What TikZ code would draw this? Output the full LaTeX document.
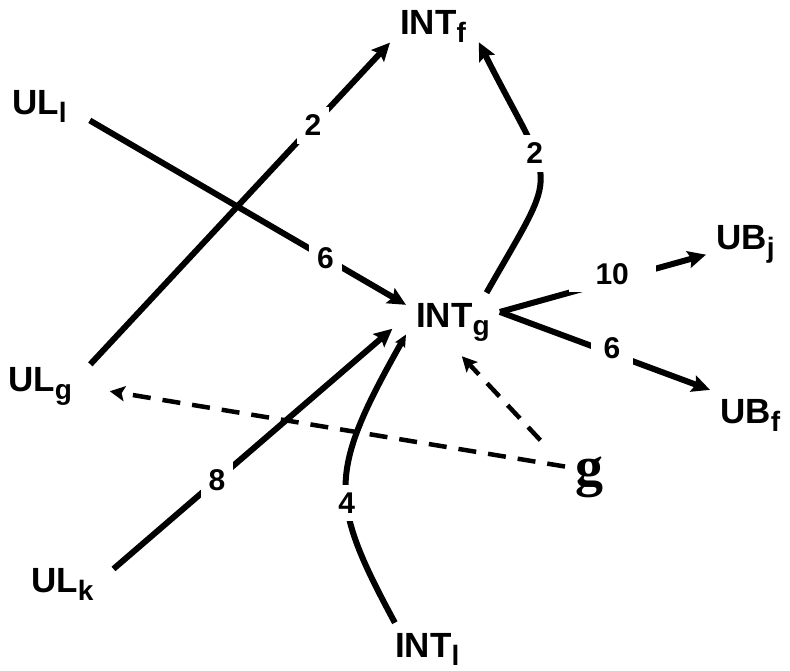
\documentclass[tikz,border=0pt]{standalone}
\usepackage{fontspec}
\setmainfont{Liberation Sans}
\newfontfamily\serifg{Liberation Serif}
\usetikzlibrary{arrows.meta}
\newcommand{\sbs}[1]{\raisebox{-8pt}{\fontsize{28}{30}\selectfont #1}}

\begin{document}
\begin{tikzpicture}[x=1pt, y=-1pt,
        vertexnode/.style={inner sep=10pt, anchor=base west, font=\fontsize{35}{40}\selectfont\bfseries},
        gnode/.style={inner sep=10pt, anchor=base west, font=\fontsize{56}{60}\selectfont\serifg\bfseries},
        weightnode/.style={fill=white, inner sep=8pt, font=\fontsize{30}{34}\selectfont\bfseries},
        solidlink/.style={line width=6pt, -{Stealth[length=18pt, width=17pt, inset=3pt]}},
        dashlink/.style={line width=4.5pt, dash pattern=on 18pt off 12pt, -{Stealth[length=15pt, width=15pt, inset=3pt]}}]

        \useasboundingbox (0,0) rectangle (790,671);

        \node[vertexnode] (INTf) at (390,35) {INT\sbs{f}};
        \node[vertexnode] (ULl) at (2,115) {UL\sbs{l}};
        \node[vertexnode] (ULg) at (-2,391) {UL\sbs{g}};
        \node[vertexnode] (ULk) at (21,592) {UL\sbs{k}};
        \node[vertexnode] (INTg) at (406,327) {INT\sbs{g}};
        \node[vertexnode] (UBj) at (706,250) {UB\sbs{j}};
        \node[vertexnode] (UBf) at (710,423) {UB\sbs{f}};
        \node[vertexnode] (INTl) at (385,657) {INT\sbs{l}};
        \node[gnode] (g) at (565,485) {g};

        \draw[solidlink, shorten <=12pt] (ULg.17) -- node[weightnode, pos=0.75] {2} (INTf.200);
        \draw[solidlink, shorten <=15pt] (ULl.351) -- node[weightnode, pos=0.755] {6} (INTg.160);
        \draw[solidlink, shorten >=6pt] (INTg.41) .. controls (562,160) and (556,195) .. node[weightnode, pos=0.62] {2} (INTf.347);
        \draw[solidlink] (INTg.12) -- node[weightnode, pos=0.545, inner xsep=27pt, yshift=7pt] {10} (UBj.194);
        \draw[solidlink] (INTg.12) -- node[weightnode, pos=0.534, inner xsep=13pt, yshift=5pt] {6} (UBf.148);
        \draw[solidlink, shorten <=13pt, shorten >=18pt] (ULk.9) -- node[weightnode, pos=0.375] {8} (INTg.174);
        \draw[solidlink, -{Stealth[length=12pt, width=11pt, inset=2pt]}] (INTl.141) .. controls (328,499) and (328,473) .. node[weightnode, pos=0.42] {4} (INTg.195);
        \draw[dashlink, shorten >=28pt] (g.157) -- (ULg.359);
        \draw[dashlink, shorten <=36pt, shorten >=7pt] (g.157) -- (INTg.278);

\end{tikzpicture}
\end{document}
